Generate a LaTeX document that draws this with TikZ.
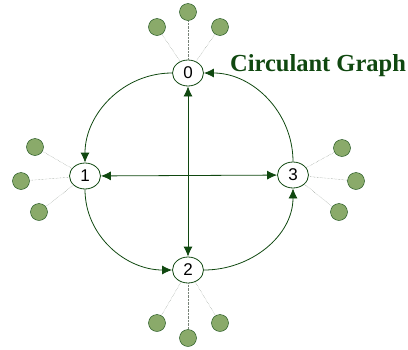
\documentclass[tikz,border=0pt]{standalone}
\usepackage{fontspec}
\setmainfont{Liberation Serif}
\setsansfont{Liberation Sans}
\usepackage{xcolor}
\usetikzlibrary{positioning, shapes.geometric, arrows.meta}

\definecolor{darkgreen}{RGB}{16,72,16}
\definecolor{leafgreen}{RGB}{138,170,106}
\definecolor{dotgray}{RGB}{120,130,120}

\begin{document}
\begin{tikzpicture}[x=1pt, y=-1pt,
    vertex/.style={draw=darkgreen, thick, ellipse, fill=white, minimum width=31pt, minimum height=26pt, inner sep=0pt, font=\sffamily\fontsize{17}{17}\selectfont},
    leaf/.style={draw=darkgreen, circle, fill=leafgreen, minimum size=17pt, inner sep=0pt},
    edge/.style={draw=darkgreen, thick, -{Latex[length=10pt, width=9pt]}},
    twoway/.style={draw=darkgreen, thick, {Latex[length=10pt, width=9pt]}-{Latex[length=10pt, width=9pt]}},
    spoke/.style={draw=dotgray, densely dotted}]
      \useasboundingbox (0, 0) rectangle (408, 349);

      % graph vertices
      \node[vertex] (n0) at (188, 73) {0};
      \node[vertex] (n1) at (85, 176) {1};
      \node[vertex] (n2) at (188, 270) {2};
      \node[vertex] (n3) at (293, 175) {3};

      % outer cycle
      \draw[edge] (n0) to[out=180, in=90] (n1);
      \draw[edge] (n1) to[out=-90, in=180] (n2);
      \draw[edge] (n2) to[out=0, in=-90] (n3);
      \draw[edge] (n3) to[out=90, in=0] (n0);

      % chords
      \draw[twoway] (n0) -- (n2);
      \draw[twoway] (n1) -- (n3);

      % leaves
      \node[leaf] (l0a) at (157, 27) {};
      \node[leaf] (l0b) at (188, 12) {};
      \node[leaf] (l0c) at (220, 27) {};
      \node[leaf] (l1a) at (35, 147) {};
      \node[leaf] (l1b) at (21, 181) {};
      \node[leaf] (l1c) at (39, 212) {};
      \node[leaf] (l2a) at (157, 323) {};
      \node[leaf] (l2b) at (188, 338) {};
      \node[leaf] (l2c) at (220, 323) {};
      \node[leaf] (l3a) at (342, 148) {};
      \node[leaf] (l3b) at (356, 181) {};
      \node[leaf] (l3c) at (339, 212) {};

      \foreach \v in {0, 1, 2, 3}
        \foreach \s in {a, b, c}
          \draw[spoke] (n\v) -- (l\v\s);

      \node[font=\bfseries\fontsize{24.5}{28}\selectfont, text=darkgreen, anchor=base] (title) at (318, 71) {Circulant Graph};
    \end{tikzpicture}
\end{document}
